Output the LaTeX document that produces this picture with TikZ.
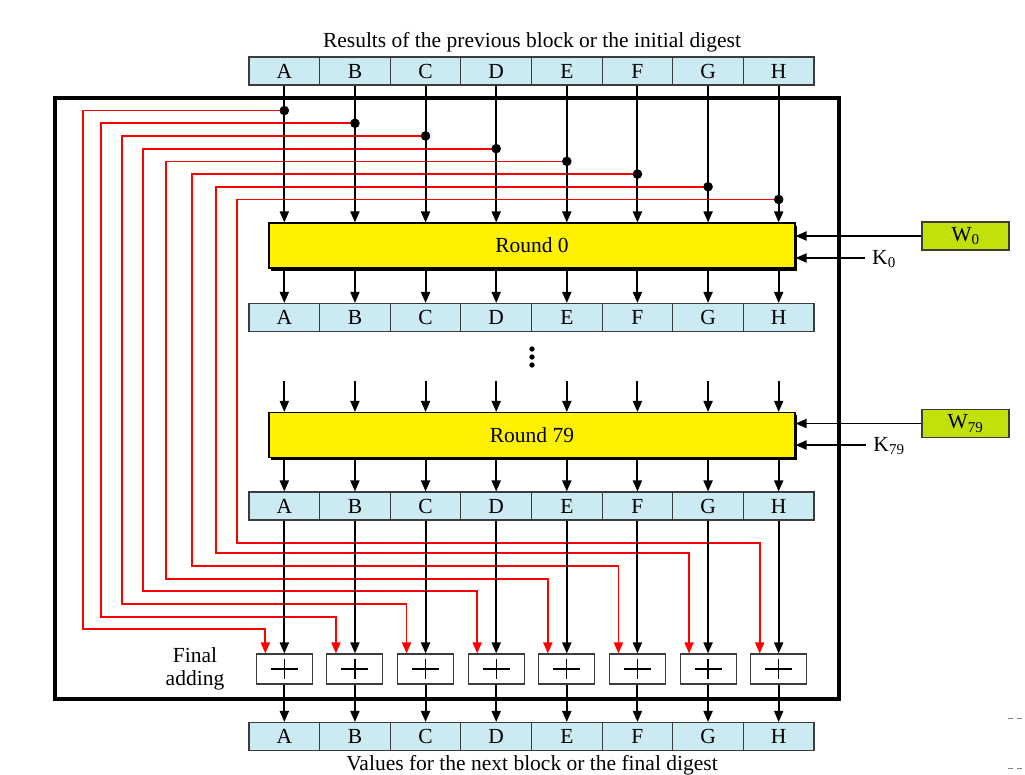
\documentclass[tikz,border=0pt]{standalone}
\usepackage{fontspec}
\setmainfont{Liberation Serif}
\usetikzlibrary{arrows.meta,shadows}
\definecolor{regblue}{RGB}{204,234,242}
\definecolor{wgreen}{RGB}{194,224,10}
\definecolor{regline}{RGB}{60,60,60}
\begin{document}
\begin{tikzpicture}[x=1pt,y=-1pt,
  lab/.style={font=\fontsize{21.5}{23}\selectfont},
  reg/.style={lab, draw=regline, line width=1.1pt, fill=regblue, minimum width=70.625pt, minimum height=28pt, inner sep=0pt},
  rnd/.style={lab, draw=black, line width=1.1pt, fill=yellow, minimum width=526pt, minimum height=45pt, inner sep=0pt,
    general shadow={fill=black, shadow xshift=2pt, shadow yshift=-2.5pt}},
  arr/.style={line width=1.9pt, -{Triangle[length=11pt,width=9pt]}},
  redarr/.style={red, line width=1.7pt, -{Triangle[length=11pt,width=9pt]}},
  adder/.style={draw=regline, line width=1.1pt, fill=white, minimum width=56pt, minimum height=30pt, inner sep=0pt},
  wbox/.style={lab, draw=regline, line width=1.1pt, fill=wgreen, minimum width=87pt, minimum height=28pt, inner sep=0pt},
  frm/.style={draw=black, line width=3.5pt, minimum width=784pt, minimum height=601pt, inner sep=0pt}
]
\useasboundingbox (0,0) rectangle (1025,774);

% outer frame
\node[frm] (frame) at (447,398.5) {};

% titles
\node[lab] (toptitle) at (532,42) {Results of the previous block or the initial digest};
\node[lab] (bottitle) at (532,765) {Values for the next block or the final digest};
\node[lab, align=center] (fin) at (195,669) {Final\\adding};

% registers and adders
\foreach \i/\L in {1/A,2/B,3/C,4/D,5/E,6/F,7/G,8/H} {
  \pgfmathsetmacro\cx{249+70.625*(\i-0.5)}
  \node[reg] (t\i) at (\cx,71) {\L};
  \node[reg] (m\i) at (\cx,317.5) {\L};
  \node[reg] (p\i) at (\cx,506) {\L};
  \node[reg] (b\i) at (\cx,736.5) {\L};
  \node[adder] (a\i) at (\cx,669) {};
  \coordinate (s\i) at (\cx,381);
}

% rounds
\node[rnd] (R0) at (532,245.5) {Round 0};
\node[rnd] (R79) at (532,435) {Round 79};

% W and K inputs
\node[wbox] (W0) at (965.5,236) {W\textsubscript{0}};
\node[wbox] (W79) at (965.5,423.5) {W\textsubscript{79}};
\node[lab] (K0) at (884,259) {K\textsubscript{0}};
\node[lab] (K79) at (889,446) {K\textsubscript{79}};
\draw[arr] (K0.west) ++(-4,-1) coordinate (k0s) -- (k0s -| R0.east);
\draw[arr] (K79.west) ++(-4,-1) coordinate (k79s) -- (k79s -| R79.east);
\draw[arr] (W0.west) -- (W0.west -| R0.east);
\draw[arr] (W79.west) -- (W79.west -| R79.east);

% red feedback lines
\foreach \i/\lx/\by in {1/83/629,2/101/617,3/122/604,4/143/591,5/166/579,6/192/566,7/216/553,8/237/543} {
  \path (t\i.south) ++(0,{25+12.7*(\i-1)}) coordinate (d\i);
  \draw[redarr] (d\i) -| (\lx,\by) -| ([xshift=-19pt]a\i.north);
}

% black data paths
\foreach \i in {1,...,8} {
  \draw[arr] (t\i.south) -- (t\i.south |- R0.north);
  \draw[arr] (t\i.south |- R0.south) -- (m\i.north);
  \draw[arr] (s\i) -- (s\i |- R79.north);
  \draw[arr] (s\i |- R79.south) -- (p\i.north);
  \draw[arr] (p\i.south) -- (a\i.north);
  \draw[arr] (a\i.south) -- (b\i.north);
  \fill (d\i) circle (4.8);
  \draw[line width=1.2pt] ([xshift=-13.5pt]a\i.center) -- ([xshift=13.5pt]a\i.center);
  \draw[line width=1.2pt] ([yshift=10pt]a\i.center) -- ([yshift=-10pt]a\i.center);
}

% vertical ellipsis
\fill (532,349) circle (2.7);
\fill (532,357) circle (2.7);
\fill (532,365) circle (2.7);

% edge marks
\draw[gray, line width=0.8pt, dash pattern=on 5pt off 4pt] (1008,718) -- (1025,718);
\draw[gray, line width=0.8pt, dash pattern=on 5pt off 4pt] (1008,768) -- (1025,768);
\end{tikzpicture}
\end{document}
